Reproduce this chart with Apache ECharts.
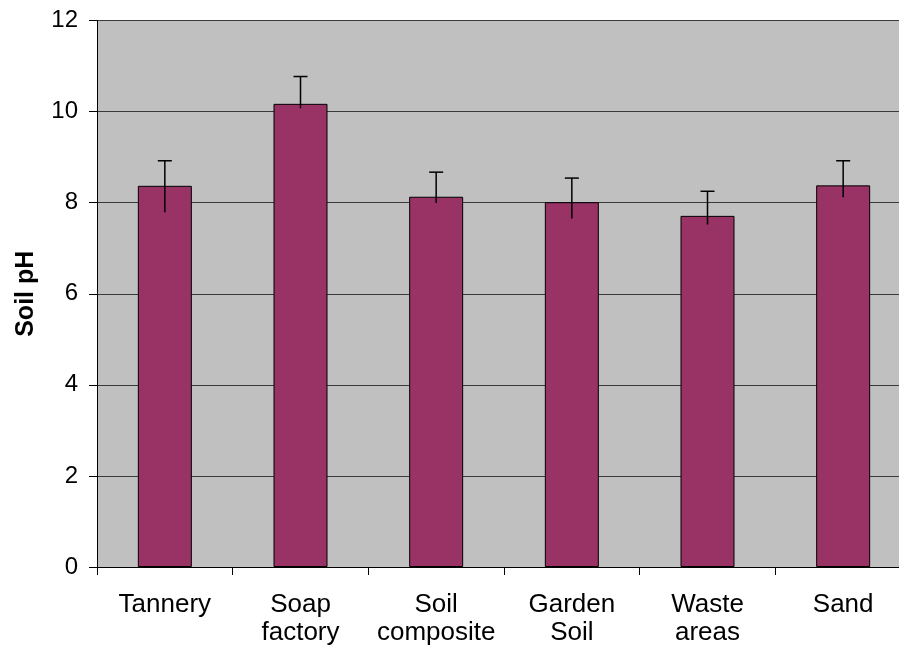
<!DOCTYPE html>
<html>
<head>
<meta charset="utf-8">
<script src="https://cdn.jsdelivr.net/npm/echarts@6/dist/echarts.min.js"></script>
<style>
html,body{margin:0;padding:0;background:#fff;overflow:hidden;width:899px;height:650px;}
#chart{width:912px;height:650px;}
</style>
</head>
<body>
<div id="chart"></div>
<script>
const categories = ["Tannery", "Soap\nfactory", "Soil\ncomposite", "Garden\nSoil", "Waste\nareas", "Sand"];
const soilPH = [8.37, 10.17, 8.13, 8.01, 7.71, 8.38];
const errorHigh = [8.92, 10.77, 8.67, 8.54, 8.25, 8.92];
const errorLow = [7.79, 10.07, 7.99, 7.65, 7.52, 8.12];
const yTicks = [0, 2, 4, 6, 8, 10, 12];

const errData = categories.map((c, i) => [i, errorLow[i], errorHigh[i]]);

const chart = echarts.init(document.getElementById('chart'), null, {renderer: 'canvas', width: 912, height: 650});
const font = 'Liberation Sans, Arial, Helvetica, sans-serif';

chart.setOption({
  animation: false,
  grid: {
    left: 97, top: 20.5, width: 814, height: 546.5,
    show: true, backgroundColor: '#C0C0C0', borderWidth: 0
  },
  xAxis: {
    type: 'category',
    data: categories,
    boundaryGap: true,
    axisLine: {show: true, lineStyle: {color: '#000', width: 1}},
    axisTick: {show: true, length: 8, lineStyle: {color: '#000'}},
    axisLabel: {
      color: '#000', fontSize: 26, fontFamily: font, margin: 24,
      lineHeight: 28, interval: 0
    },
    splitLine: {show: false}
  },
  yAxis: {
    type: 'value',
    min: yTicks[0], max: yTicks[yTicks.length - 1], interval: 2,
    name: 'Soil pH',
    nameLocation: 'middle',
    nameGap: 58,
    nameTextStyle: {color: '#000', fontSize: 25, fontWeight: 'bold', fontFamily: font},
    axisLine: {show: true, lineStyle: {color: '#000', width: 1}},
    axisTick: {show: true, length: 8, lineStyle: {color: '#000'}},
    axisLabel: {color: '#000', fontSize: 24, fontFamily: font, margin: 19},
    splitLine: {show: true, lineStyle: {color: '#3a3a3a', width: 1.2}}
  },
  series: [
    {
      type: 'bar',
      data: soilPH,
      barWidth: 54,
      itemStyle: {color: '#993366', borderColor: '#000', borderWidth: 1}
    },
    {
      type: 'custom',
      data: errData,
      z: 10,
      renderItem: function (params, api) {
        const x = api.value(0);
        const lo = api.coord([x, api.value(1)]);
        const hi = api.coord([x, api.value(2)]);
        const hw = 7;
        return {
          type: 'group',
          children: [
            {type: 'line', shape: {x1: hi[0], y1: hi[1], x2: lo[0], y2: lo[1]},
             style: {stroke: '#000', lineWidth: 1.5}},
            {type: 'line', shape: {x1: hi[0] - hw, y1: hi[1], x2: hi[0] + hw, y2: hi[1]},
             style: {stroke: '#000', lineWidth: 1.5}}
          ]
        };
      }
    }
  ]
});
</script>
</body>
</html>
